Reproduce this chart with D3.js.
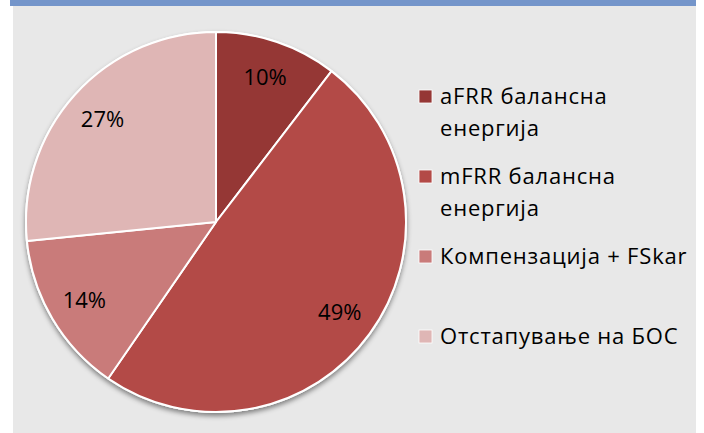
<!DOCTYPE html>
<html>
<head>
    <script src="https://cdnjs.cloudflare.com/ajax/libs/d3/7.8.5/d3.min.js"></script>
    <style>
        body { margin: 0; background: #fff; }
        svg text { font-family: "Open Sans", "DejaVu Sans", sans-serif; fill: #000; }
    </style>
</head>
<body>
    <div id="chart"></div>
    <script>
        const width = 704, height = 433;

        // data
        const categories = ["aFRR балансна енергија", "mFRR балансна енергија", "Компензација + FSkar", "Отстапување на БОС"];
        const legendLines = [["aFRR балансна", "енергија"], ["mFRR балансна", "енергија"], ["Компензација + FSkar"], ["Отстапување на БОС"]];
        const shares = [10.4, 49.2, 13.8, 26.6];
        const colors = ["#953735", "#b34a47", "#c97b7a", "#dfb6b5"];

        const svg = d3.select("#chart").append("svg")
            .attr("width", width).attr("height", height);

        const defs = svg.append("defs");
        const f = defs.append("filter").attr("id", "shadow")
            .attr("x", "-10%").attr("y", "-10%").attr("width", "120%").attr("height", "120%");
        f.append("feDropShadow").attr("dx", 0).attr("dy", 3).attr("stdDeviation", 2.5)
            .attr("flood-color", "#000").attr("flood-opacity", 0.45);

        // frame
        svg.append("rect").attr("x", 10).attr("y", 0).attr("width", 686).attr("height", 6).attr("fill", "#7495ca");
        svg.append("rect").attr("x", 13).attr("y", 6).attr("width", 683).attr("height", height - 6).attr("fill", "#e8e8e8");

        const cx = 216, cy = 222, R = 190;
        const data = categories.map((c, i) => ({ name: c, value: shares[i], color: colors[i] }));
        const total = d3.sum(shares);

        const pie = d3.pie().value(d => d.value).sort(null);
        const arcs = pie(data);
        const arc = d3.arc().innerRadius(0).outerRadius(R);
        const labelArc = d3.arc().innerRadius(153).outerRadius(153);

        const g = svg.append("g").attr("transform", `translate(${cx},${cy})`);

        g.append("circle").attr("r", R + 1).attr("fill", "#fff").attr("filter", "url(#shadow)");

        g.selectAll("path.slice")
            .data(arcs)
            .enter().append("path")
            .attr("class", "slice")
            .attr("d", arc)
            .attr("fill", d => d.data.color)
            .attr("stroke", "#fff")
            .attr("stroke-width", 2)
            .attr("stroke-linejoin", "round");

        g.selectAll("text.pct")
            .data(arcs)
            .enter().append("text")
            .attr("class", "pct")
            .attr("transform", d => `translate(${labelArc.centroid(d)})`)
            .attr("text-anchor", "middle")
            .attr("dy", "0.36em")
            .style("font-size", "22px")
            .text(d => Math.round(d.data.value / total * 100) + "%");

        // legend
        const legend = svg.append("g");
        const item = legend.selectAll("g")
            .data(data)
            .enter().append("g")
            .attr("transform", (d, i) => `translate(419,${104 + i * 80})`);

        item.append("rect")
            .attr("x", 0).attr("y", -14)
            .attr("width", 13).attr("height", 13)
            .attr("fill", d => d.color)
            .attr("stroke", "#fff").attr("stroke-width", 0.8);

        item.append("text")
            .style("font-size", "22px")
            .style("letter-spacing", "0.8px")
            .selectAll("tspan")
            .data((d, i) => legendLines[i])
            .enter().append("tspan")
            .attr("x", 21)
            .attr("y", (d, j) => j * 31.5)
            .text(d => d);
    </script>
</body>
</html>
